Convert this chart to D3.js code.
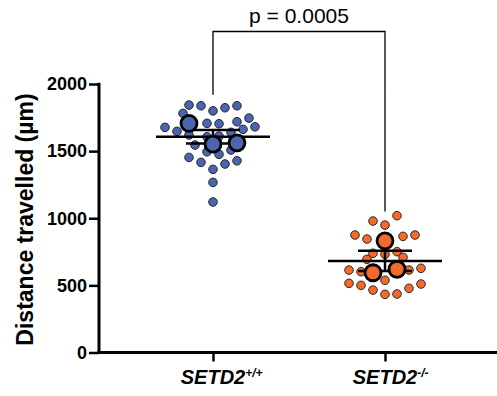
<!DOCTYPE html>
<html>
<head>
<meta charset="utf-8">
<script src="https://cdn.jsdelivr.net/npm/d3@7"></script>
<style>
  html, body { margin: 0; padding: 0; background: #fff; }
  svg { display: block; font-family: "Liberation Sans", Arial, Helvetica, sans-serif; }
</style>
</head>
<body>
<svg id="main_svg"></svg>
<script>
const WIDTH = 497;
const HEIGHT = 396;

// groups
const groups = ['wt', 'ko'];
const groupMain = ['SETD2', 'SETD2'];
const groupSup = ['+/+', '-/-'];
const groupColors = ['#4b65b1', '#f26b2c'];

// individual cells: value (µm) and beeswarm slot (side offset)
const wtValues = [1843, 1838, 1800, 1823, 1838, 1781, 1746, 1677, 1647, 1707, 1704, 1719, 1681, 1662, 1640,
  1620, 1607, 1612, 1545, 1495, 1508, 1476, 1453, 1416, 1404, 1428, 1364, 1267, 1121];
const wtSlots = [-4, -2, 0, 2, 4, -5, 6, -8, -6, -1, 1, 4, 7, 5, 3,
  -4, -1, 1, -3, -1, 3, 1, -4, -2, 2, 4, 0, 0, 0];

const koValues = [1019, 979, 949, 875, 845, 865, 875, 739, 731, 751, 694, 709, 614, 602, 614, 627,
  538, 515, 500, 465, 433, 436, 478, 510];
const koSlots = [2, -2, 0, -5, -3, 3, 5, -2, 0, 2, -3, 3, -6, -4, 4, 6,
  0, -6, -4, -2, 0, 2, 4, 6];

// experiment means (big dots)
const wtRepValues = [1707, 1552, 1562];
const wtRepSlots = [-4, 0, 4];
const koRepValues = [832, 594, 620];
const koRepSlots = [0, -2, 2];

const yTicks = [0, 500, 1000, 1500, 2000];
const pLabel = 'p = 0.0005';
const bracketEnds = [1920, 1050];

const svg = d3.select('#main_svg').attr('width', WIDTH).attr('height', HEIGHT);

const y = d3.scaleLinear().domain([0, 2000]).range([352.5, 84]);
const x = d3.scalePoint().domain(groups).range([213, 385]);
const slot = d3.scaleLinear().domain([-1, 1]).range([-6, 6]);

const cells = [wtValues, koValues];
const cellSlots = [wtSlots, koSlots];
const reps = [wtRepValues, koRepValues];
const repSlots = [wtRepSlots, koRepSlots];

// y axis
const yAxis = svg.append('g')
  .attr('transform', 'translate(99,0)')
  .call(d3.axisLeft(y).tickValues(yTicks).tickSize(10).tickPadding(2).tickFormat(d3.format('d')));
yAxis.select('.domain').remove();
yAxis.selectAll('.tick line').attr('stroke', '#000').attr('stroke-width', 2.5);
yAxis.selectAll('.tick text')
  .attr('font-family', '"Liberation Sans", Arial, sans-serif')
  .attr('font-weight', 'bold').attr('font-size', 18).attr('fill', '#000');

svg.append('line')
  .attr('x1', 99).attr('x2', 99)
  .attr('y1', y(2000) - 1.25).attr('y2', y(0))
  .attr('stroke', '#000').attr('stroke-width', 3);

// x axis
const xAxis = svg.append('g')
  .attr('transform', `translate(0,${y(0)})`)
  .call(d3.axisBottom(x).tickSize(9).tickFormat(''));
xAxis.select('.domain').remove();
xAxis.selectAll('.tick line').attr('stroke', '#000').attr('stroke-width', 2.5);

svg.append('line')
  .attr('x1', 97.5).attr('x2', WIDTH)
  .attr('y1', y(0)).attr('y2', y(0))
  .attr('stroke', '#000').attr('stroke-width', 3);

// x labels with superscript
groups.forEach((g, i) => {
  const t = svg.append('text')
    .attr('y', 384)
    .attr('font-weight', 'bold')
    .attr('font-style', 'italic')
    .attr('font-size', 20)
    .attr('fill', '#000');
  const main = t.append('tspan').text(groupMain[i]);
  t.append('tspan').attr('font-size', 12).attr('dy', -7).text(groupSup[i]);
  const w = main.node().getComputedTextLength();
  t.attr('x', x(g) - w / 2);
});

// y title
svg.append('text')
  .attr('transform', `translate(33,219.5) rotate(-90)`)
  .attr('text-anchor', 'middle')
  .attr('font-weight', 'bold')
  .attr('font-size', 23)
  .attr('fill', '#000')
  .text('Distance travelled (µm)');

// small dots
groups.forEach((g, i) => {
  svg.append('g').selectAll('circle')
    .data(cells[i])
    .enter().append('circle')
    .attr('cx', (d, j) => x(g) + slot(cellSlots[i][j]))
    .attr('cy', d => y(d))
    .attr('r', 4.3)
    .attr('fill', groupColors[i])
    .attr('stroke', '#1a1a1a')
    .attr('stroke-width', 0.9);
});

// mean and SEM of experiment means
groups.forEach((g, i) => {
  const vals = reps[i];
  const m = d3.mean(vals);
  const sem = d3.deviation(vals) / Math.sqrt(vals.length);
  const cx = x(g);
  const lg = svg.append('g').attr('stroke', '#000').attr('stroke-width', 2.5);
  lg.append('line').attr('x1', cx - 57).attr('x2', cx + 57).attr('y1', y(m)).attr('y2', y(m));
  lg.append('line').attr('x1', cx).attr('x2', cx).attr('y1', y(m + sem)).attr('y2', y(m - sem));
  [m + sem, m - sem].forEach(v => {
    lg.append('line').attr('x1', cx - 27).attr('x2', cx + 27).attr('y1', y(v)).attr('y2', y(v));
  });
});

// big dots
groups.forEach((g, i) => {
  svg.append('g').selectAll('circle')
    .data(reps[i])
    .enter().append('circle')
    .attr('cx', (d, j) => x(g) + slot(repSlots[i][j]))
    .attr('cy', d => y(d))
    .attr('r', 8)
    .attr('fill', groupColors[i])
    .attr('stroke', '#000')
    .attr('stroke-width', 2.8);
});

// significance bracket
const bTop = 31.5;
svg.append('path')
  .attr('d', `M${x(groups[0])},${y(bracketEnds[0])}V${bTop}H${x(groups[1])}V${y(bracketEnds[1])}`)
  .attr('fill', 'none')
  .attr('stroke', '#000')
  .attr('stroke-width', 1.3);

svg.append('text')
  .attr('x', (x(groups[0]) + x(groups[1])) / 2)
  .attr('y', 23)
  .attr('text-anchor', 'middle')
  .attr('font-size', 21)
  .attr('fill', '#000')
  .text(pLabel);
</script>
</body>
</html>
